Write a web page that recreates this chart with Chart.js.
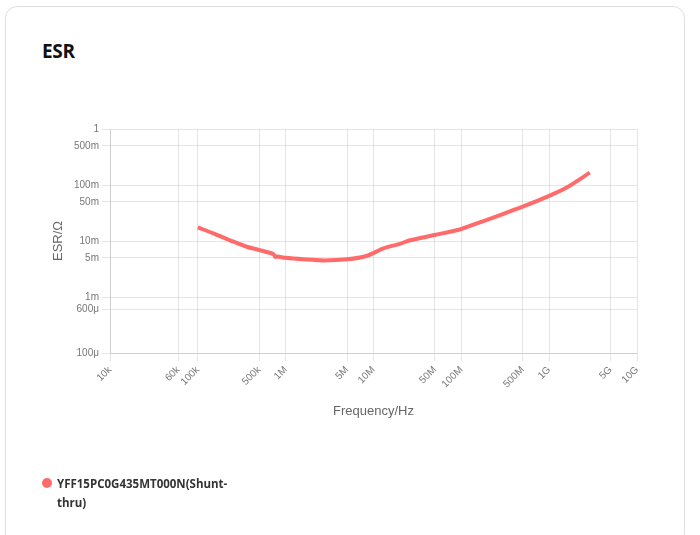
<!DOCTYPE html>
<html>
<head>
<meta charset="utf-8">
<script src="https://cdn.jsdelivr.net/npm/chart.js@4"></script>
<style>
    html, body { margin: 0; padding: 0; background: #fff; }
    body { width: 700px; height: 535px; position: relative; overflow: hidden; font-family: "Open Sans", "Noto Sans", sans-serif; }
    .card { position: absolute; left: 5px; top: 6px; width: 680px; height: 540px; border: 1px solid #dedede; border-radius: 12px; box-sizing: border-box; }
    .title { position: absolute; left: 42px; top: 38px; margin: 0; font-size: 19px; font-weight: 700; color: #111; letter-spacing: -0.3px; }
    #chart { position: absolute; left: 0; top: 0; }
    .legend { position: absolute; left: 42px; top: 474px; width: 200px; font-size: 11.5px; font-weight: 700; color: #333; line-height: 19px; }
    .legend .dot { position: absolute; left: 0; top: 4px; width: 10px; height: 10px; border-radius: 50%; background: rgb(255, 107, 107); }
    .legend .label { padding-left: 15px; display: block; }
</style>
</head>
<body>
<div class="card"></div>
<h2 class="title">ESR</h2>
<canvas id="chart" width="700" height="535"></canvas>
<div class="legend"><span class="dot"></span><span class="label" id="legend-label"></span></div>
<script>
// series
const seriesName = 'YFF15PC0G435MT000N(Shunt-thru)';
const freq = [1e5, 1.5e5, 2.3e5, 3.6e5, 5e5, 7.3e5, 7.6e5, 8e5, 1e6, 1.6e6, 2.7e6, 5e6, 8.3e6, 1.3e7, 2e7, 2.6e7, 5e7, 1e8, 1.5e8, 2.3e8, 5e8, 1e9, 1.6e9, 2.9e9];
const esr  = [0.0175, 0.0137, 0.0104, 0.0079, 0.0069, 0.0058, 0.0052, 0.0053, 0.0050, 0.0047, 0.0045, 0.0047, 0.0054, 0.0074, 0.0089, 0.0103, 0.0128, 0.0164, 0.0206, 0.0262, 0.041, 0.064, 0.091, 0.166];

// ticks
const xTickValues = [1e4, 6e4, 1e5, 5e5, 1e6, 5e6, 1e7, 5e7, 1e8, 5e8, 1e9, 5e9, 1e10];
const xTickLabels = ['10k', '60k', '100k', '500k', '1M', '5M', '10M', '50M', '100M', '500M', '1G', '5G', '10G'];
const yTickValues = [1e-4, 6e-4, 1e-3, 5e-3, 1e-2, 5e-2, 1e-1, 5e-1, 1];
const yTickLabels = ['100\u03bc', '600\u03bc', '1m', '5m', '10m', '50m', '100m', '500m', '1'];

document.getElementById('legend-label').textContent = seriesName;

const lineColor = 'rgb(255, 107, 107)';

function pickLabel(values, labels, v) {
    const i = values.findIndex(t => Math.abs(Math.log10(t) - Math.log10(v)) < 1e-6);
    return i >= 0 ? labels[i] : '';
}

new Chart(document.getElementById('chart'), {
    type: 'line',
    data: {
        datasets: [{
            label: seriesName,
            data: freq.map((f, i) => ({ x: f, y: esr[i] })),
            borderColor: lineColor,
            backgroundColor: lineColor,
            borderWidth: 4,
            pointRadius: 0,
            tension: 0.3,
            fill: false
        }]
    },
    options: {
        responsive: false,
        animation: false,
        layout: { padding: { top: 129, left: 47, right: 63, bottom: 112 } },
        plugins: { legend: { display: false }, tooltip: { enabled: false } },
        scales: {
            x: {
                type: 'logarithmic',
                min: 1e4,
                max: 1e10,
                afterBuildTicks: s => { s.ticks = xTickValues.map(v => ({ value: v })); },
                afterFit: s => { s.height = 70; },
                ticks: {
                    minRotation: 45,
                    maxRotation: 45,
                    autoSkip: false,
                    color: '#777',
                    font: { size: 10 },
                    callback: v => pickLabel(xTickValues, xTickLabels, v)
                },
                grid: { color: 'rgba(0,0,0,0.1)' },
                title: { display: true, text: 'Frequency/Hz', color: '#666', font: { size: 13 } }
            },
            y: {
                type: 'logarithmic',
                min: 1e-4,
                max: 1,
                afterBuildTicks: s => { s.ticks = yTickValues.map(v => ({ value: v })); },
                afterFit: s => { s.width = 63; },
                ticks: {
                    autoSkip: false,
                    color: '#777',
                    font: { size: 10 },
                    callback: v => pickLabel(yTickValues, yTickLabels, v)
                },
                grid: { color: 'rgba(0,0,0,0.1)' },
                title: { display: true, text: 'ESR/\u03a9', color: '#666', font: { size: 13 } }
            }
        }
    }
});
</script>
</body>
</html>
